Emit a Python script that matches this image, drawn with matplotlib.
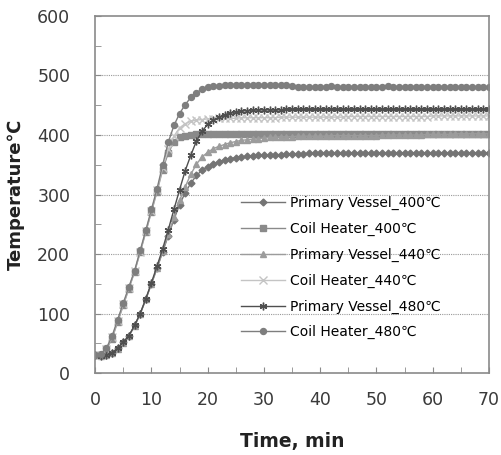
import matplotlib
matplotlib.use('Agg')
import matplotlib.pyplot as plt
import numpy as np
from matplotlib.ticker import MultipleLocator

plt.rcParams['font.family'] = ['DejaVu Sans', 'Noto Sans CJK KR']

time_min = list(range(0, 71))

pv_400 = [31, 30, 31, 34, 42, 52, 63, 80, 100, 124,
          150, 176, 204, 231, 258, 283, 303, 319, 332, 341,
          347, 352, 355, 358, 360, 362, 363, 364, 365, 366,
          366, 367, 367, 367, 368, 368, 368, 368, 369, 369,
          369, 369, 369, 369, 370, 370, 370, 370, 370, 370,
          370, 370, 370, 370, 370, 370, 370, 370, 370, 370,
          370, 370, 370, 370, 370, 370, 370, 370, 370, 370, 370]
ch_400 = [30, 31, 40, 58, 86, 114, 142, 170, 203, 237,
          271, 305, 342, 370, 388, 396, 399, 400, 401, 401,
          401, 401, 401, 401, 401, 401, 401, 401, 401, 401,
          401, 401, 401, 401, 401, 401, 401, 401, 401, 401,
          401, 401, 401, 401, 401, 401, 401, 401, 401, 401,
          401, 401, 401, 401, 401, 401, 401, 401, 401, 401,
          401, 401, 401, 401, 401, 401, 401, 401, 401, 401, 401]
pv_440 = [30, 29, 30, 33, 41, 51, 62, 79, 99, 124,
          150, 177, 205, 233, 262, 290, 313, 334, 351, 363,
          371, 377, 381, 384, 387, 389, 391, 392, 393, 394,
          395, 396, 396, 397, 397, 397, 398, 398, 398, 398,
          398, 398, 399, 399, 399, 399, 399, 399, 399, 399,
          399, 400, 400, 400, 400, 400, 400, 400, 400, 401,
          401, 401, 401, 401, 402, 402, 402, 402, 402, 402, 402]
ch_440 = [30, 31, 41, 60, 88, 116, 143, 171, 204, 238,
          273, 307, 345, 376, 398, 412, 419, 423, 425, 426,
          427, 427, 428, 428, 428, 428, 429, 429, 429, 429,
          429, 429, 429, 430, 430, 430, 430, 430, 430, 430,
          430, 430, 430, 430, 430, 431, 431, 431, 431, 431,
          431, 431, 431, 431, 431, 431, 431, 431, 431, 431,
          432, 432, 432, 432, 432, 432, 432, 432, 432, 432, 432]
pv_480 = [30, 29, 30, 34, 42, 52, 63, 80, 100, 125,
          152, 180, 209, 241, 275, 308, 340, 366, 390, 406,
          418, 425, 430, 434, 437, 439, 440, 441, 442, 442,
          442, 442, 442, 442, 443, 443, 443, 443, 443, 443,
          443, 443, 443, 443, 443, 443, 443, 443, 443, 443,
          443, 443, 443, 443, 443, 443, 443, 443, 443, 443,
          443, 443, 443, 443, 443, 443, 443, 443, 443, 443, 443]
ch_480 = [30, 32, 42, 62, 90, 118, 145, 172, 206, 240,
          275, 310, 350, 388, 416, 436, 451, 463, 471, 477,
          480, 482, 483, 484, 484, 484, 484, 484, 484, 484,
          484, 484, 484, 484, 484, 482, 481, 481, 481, 481,
          481, 481, 483, 481, 481, 481, 481, 481, 481, 481,
          481, 481, 483, 481, 481, 481, 481, 481, 481, 481,
          481, 481, 481, 481, 481, 481, 481, 481, 481, 481, 481]

labels = ['Primary Vessel_400℃', 'Coil Heater_400℃', 'Primary Vessel_440℃',
          'Coil Heater_440℃', 'Primary Vessel_480℃', 'Coil Heater_480℃']
series = [pv_400, ch_400, pv_440, ch_440, pv_480, ch_480]
markers = ['D', 's', '^', 'x', (6, 2, 0), 'o']
colors = ['#747474', '#8a8a8a', '#9c9c9c', '#c4c4c4', '#4f4f4f', '#7e7e7e']
sizes = [3.5, 4, 4.2, 5.5, 5.5, 4.3]

fig = plt.figure(figsize=(5.01, 4.55), dpi=100)
ax = fig.add_axes([0.19, 0.18, 0.786, 0.785])

for y, lab, m, c, s in zip(series, labels, markers, colors, sizes):
    ax.plot(time_min, y, color=c, lw=1, marker=m, ms=s, mew=1, label=lab)

ax.set_xlim(0, 70)
ax.set_ylim(0, 600)
ax.xaxis.set_major_locator(MultipleLocator(10))
ax.xaxis.set_minor_locator(MultipleLocator(5))
ax.yaxis.set_major_locator(MultipleLocator(100))
ax.yaxis.set_minor_locator(MultipleLocator(50))
ax.tick_params(which='both', direction='in', length=4, color='#8a8a8a',
               labelsize=12.5, labelcolor='#3a3a3a')
ax.tick_params(axis='x', pad=13)
ax.tick_params(axis='y', pad=18)
for sp in ax.spines.values():
    sp.set_color('#8a8a8a')
    sp.set_linewidth(1.2)

for g in [100, 200, 300, 400, 500]:
    ax.axhline(g, color='#999999', lw=0.8, ls=(0, (1, 1)), zorder=0)

ax.set_xlabel('Time, min', fontsize=13.5, fontweight='bold', color='#222222')
ax.set_ylabel('Temperature℃', fontsize=13, fontweight='bold', color='#222222')
ax.xaxis.set_label_coords(0.5, -0.165)
ax.yaxis.set_label_coords(-0.178, 0.5)

ax.legend(loc='upper left', bbox_to_anchor=(0.37, 0.497), frameon=False,
          fontsize=10, handlelength=3.2, handletextpad=0.3, labelspacing=0.85,
          borderpad=0, borderaxespad=0)

fig.savefig('out.png', dpi=100)
